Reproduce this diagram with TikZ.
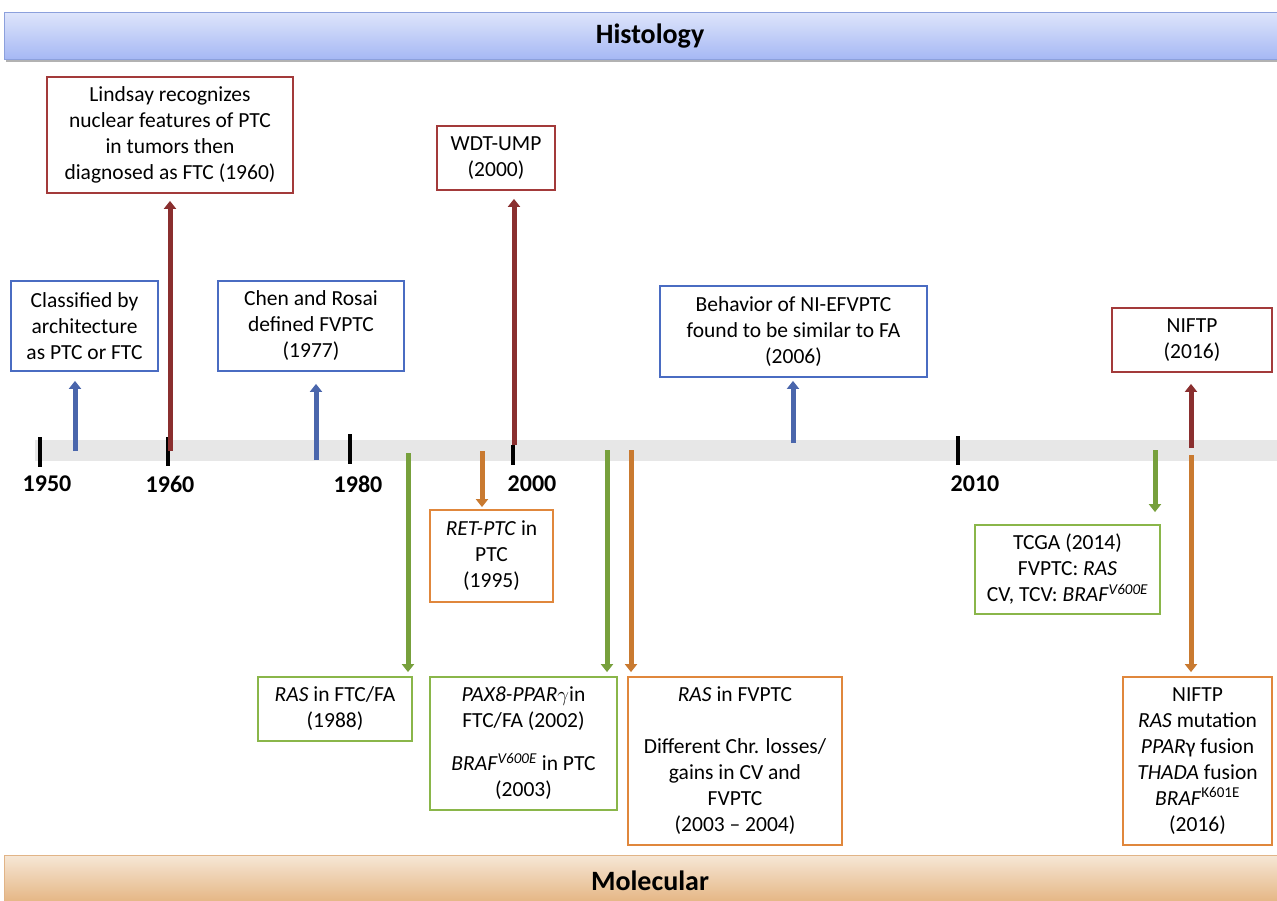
\documentclass[tikz,border=0pt]{standalone}
\usepackage{fontspec}
\setmainfont{Carlito}
\usetikzlibrary{arrows.meta,shadows}
\definecolor{bluebox}{HTML}{4A6CC2}
\definecolor{redbox}{HTML}{A33A3A}
\definecolor{greenbox}{HTML}{8AB64A}
\definecolor{orangebox}{HTML}{E0873C}
\definecolor{bluearr}{HTML}{4A66AC}
\definecolor{redarr}{HTML}{8A2F2F}
\definecolor{greenarr}{HTML}{77A03C}
\definecolor{orangearr}{HTML}{C97A30}
\definecolor{band}{HTML}{E7E7E7}
\tikzset{
  evbox/.style={draw=#1, line width=1.8pt, fill=white, inner sep=0pt, align=center,
    font=\fontsize{21.5}{26}\selectfont},
  evarrow/.style={draw=#1, line width=5pt, -{Triangle[width=12pt,length=8pt]}},
  tick/.style={draw=black, line width=4.5pt},
  yearlab/.style={font=\fontsize{24}{28}\selectfont\bfseries, inner sep=0pt},
  banner/.style={font=\fontsize{28}{32}\selectfont\bfseries}
}
\begin{document}
\begin{tikzpicture}[x=1pt,y=-1pt]
\useasboundingbox (0,0) rectangle (1277,900);
% banners
\fill[gray!60] (6,14) rectangle (1280,62);
\shade[top color={rgb,255:red,222;green,229;blue,251}, bottom color={rgb,255:red,166;green,184;blue,244}, draw={rgb,255:red,140;green,160;blue,220}, line width=0.8pt] (4,12) rectangle (1280,59);
\node[banner] (hist) at (650,36) {Histology};
\shade[top color={rgb,255:red,246;green,231;blue,214}, bottom color={rgb,255:red,229;green,182;blue,132}, draw={rgb,255:red,225;green,180;blue,135}, line width=0.8pt] (4,855) rectangle (1280,902);
\node[banner] (mol) at (650,881) {Molecular};
% timeline band
\fill[band] (35,440) rectangle (1277,461);
% ticks
\draw[tick] (40,437) -- (40,467);
\draw[tick] (168,437) -- (168,466);
\draw[tick] (350,434) -- (350,464);
\draw[tick] (513,445) -- (513,465);
\draw[tick] (958,436) -- (958,465);
\node[yearlab] (y1950) at (47,484) {1950};
\node[yearlab] (y1960) at (170,484) {1960};
\node[yearlab] (y1980) at (358,484) {1980};
\node[yearlab] (y2000) at (532,484) {2000};
\node[yearlab] (y2010) at (975,484) {2010};
% histology boxes
\node[evbox=bluebox, minimum width=147pt, minimum height=90pt] (b1) at (84.5,326)
  {Classified by\\architecture\\as PTC or FTC};
\node[evbox=redbox, minimum width=246pt, minimum height=116pt] (b2) at (170,135)
  {Lindsay recognizes\\nuclear features of PTC\\in tumors then\\diagnosed as FTC (1960)};
\node[evbox=bluebox, minimum width=186pt, minimum height=90pt] (b3) at (311,326)
  {Chen and Rosai\\defined FVPTC\\(1977)};
\node[evbox=redbox, minimum width=118pt, minimum height=64pt] (b4) at (496,158)
  {WDT-UMP\\(2000)};
\node[evbox=bluebox, minimum width=267pt, minimum height=91pt] (b5) at (793.5,331.5)
  {Behavior of NI-EFVPTC\\found to be similar to FA\\(2006)};
\node[evbox=redbox, minimum width=160pt, minimum height=64pt] (b6) at (1192,340)
  {NIFTP\\(2016)};
% molecular boxes
\node[evbox=orangebox, minimum width=123pt, minimum height=92pt] (b7) at (491.5,556)
  {\textit{RET-PTC} in\\PTC\\(1995)};
\node[evbox=greenbox, minimum width=154pt, minimum height=64pt] (b8) at (335,709)
  {\textit{RAS} in FTC/FA\\(1988)};
\node[evbox=greenbox, minimum width=187pt, minimum height=133pt] (b9) at (523.5,743.5)
  {\textit{PAX8-PPAR}$\gamma$in\\FTC/FA (2002)\\[17pt]\textit{BRAF}\textsuperscript{\textit{V600E}} in PTC\\(2003)};
\node[evbox=orangebox, minimum width=214pt, minimum height=168pt] (b10) at (735,761)
  {\textit{RAS} in FVPTC\\[26pt]Different Chr. losses/\\gains in CV and\\FVPTC\\(2003 -- 2004)};
\node[evbox=greenbox, minimum width=185pt, minimum height=89pt] (b11) at (1067.5,569.5)
  {TCGA (2014)\\FVPTC: \textit{RAS}\\CV, TCV: \textit{BRAF}\textsuperscript{\textit{V600E}}};
\node[evbox=orangebox, minimum width=149pt, minimum height=168pt] (b12) at (1197.5,761)
  {NIFTP\\\textit{RAS} mutation\\\textit{PPAR}γ fusion\\\textit{THADA} fusion\\\textit{BRAF}\textsuperscript{K601E}\\(2016)};
% arrow start points on the timeline
\coordinate (s1) at (75,451);
\coordinate (s2) at (170,451);
\coordinate (s3) at (316,460);
\coordinate (s4) at (514,445);
\coordinate (s5) at (793,443);
\coordinate (s6) at (1191,448);
\coordinate (s7) at (482,451);
\coordinate (s8) at (408,453);
\coordinate (s9) at (607,450);
\coordinate (s10) at (631,450);
\coordinate (s11) at (1155,450);
\coordinate (s12) at (1191,455);
% arrows
\draw[evarrow=bluearr, shorten >=9pt] (s1) -- (s1 |- b1.south);
\draw[evarrow=redarr, shorten >=7pt] (s2) -- (s2 |- b2.south);
\draw[evarrow=bluearr, shorten >=12pt] (s3) -- (s3 |- b3.south);
\draw[evarrow=redarr, shorten >=8pt] (s4) -- (s4 |- b4.south);
\draw[evarrow=bluearr, shorten >=3pt] (s5) -- (s5 |- b5.south);
\draw[evarrow=redarr, shorten >=11pt] (s6) -- (s6 |- b6.south);
\draw[evarrow=orangearr, shorten >=2pt] (s7) -- (s7 |- b7.north);
\draw[evarrow=greenarr, shorten >=4pt] (s8) -- (s8 |- b8.north);
\draw[evarrow=greenarr, shorten >=4pt] (s9) -- (s9 |- b9.north);
\draw[evarrow=orangearr, shorten >=4pt] (s10) -- (s10 |- b10.north);
\draw[evarrow=greenarr, shorten >=12pt] (s11) -- (s11 |- b11.north);
\draw[evarrow=orangearr, shorten >=4pt] (s12) -- (s12 |- b12.north);
\end{tikzpicture}
\end{document}
